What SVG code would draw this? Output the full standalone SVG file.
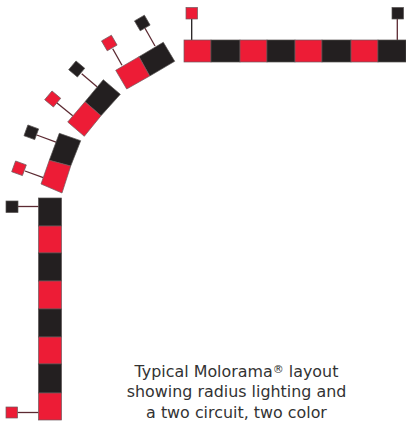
<svg xmlns="http://www.w3.org/2000/svg" width="406" height="422" viewBox="0 0 406 422">
<style>
.r{fill:#ed1c36;stroke:#6d5a5e;stroke-width:.7}
.k{fill:#231f20;stroke:#55504f;stroke-width:.7}
.l{stroke:#5c2a32;stroke-width:1.3;fill:none}
.d{stroke:#231f20;stroke-width:1.3;fill:none}
text{font-family:"DejaVu Sans",Verdana,sans-serif;font-size:15.9px;fill:#333;text-anchor:middle}
</style>
<rect width="406" height="422" fill="#fff"/>
<g id="connectors">
<path class="d" d="M191.7 19V40"/>
<path class="l" d="M397.3 19V40"/>
<path class="l" d="M18 206.5H38.5"/>
<path class="l" d="M17.5 412.5H38.5"/>
<path class="l" d="M36.7 135 56.7 142.3"/>
<path class="l" d="M25 171 43.3 177.7"/>
<path class="l" d="M81.7 73.7 97 86.7"/>
<path class="l" d="M56.7 102.7 72.7 115.7"/>
<path class="l" d="M145 28.3 155 46"/>
<path class="l" d="M112.7 48.7 122 65.3"/>
</g>
<g id="strip-top">
<rect class="r" x="184" y="40" width="27" height="22"/>
<rect class="k" x="211" y="40" width="29" height="22"/>
<rect class="r" x="240" y="40" width="27" height="22"/>
<rect class="k" x="267" y="40" width="28" height="22"/>
<rect class="r" x="295" y="40" width="27" height="22"/>
<rect class="k" x="322" y="40" width="29" height="22"/>
<rect class="r" x="351" y="40" width="27" height="22"/>
<rect class="k" x="378" y="40" width="28" height="22"/>
</g>
<g id="strip-left">
<rect class="k" x="38.5" y="198" width="23" height="28"/>
<rect class="r" x="38.5" y="226" width="23" height="27"/>
<rect class="k" x="38.5" y="253" width="23" height="28"/>
<rect class="r" x="38.5" y="281" width="23" height="28"/>
<rect class="k" x="38.5" y="309" width="23" height="28"/>
<rect class="r" x="38.5" y="337" width="23" height="27"/>
<rect class="k" x="38.5" y="364" width="23" height="29"/>
<rect class="r" x="38.5" y="393" width="23" height="27"/>
</g>
<g id="pair-1">
<polygon class="k" points="49.3,160.3 70.7,166 80.7,140.7 59.3,133.3"/>
<polygon class="r" points="41,184 62,193 70.7,166 49.3,160.3"/>
</g>
<g id="pair-2">
<polygon class="k" points="85,101.7 101,115.7 120.3,94.3 103.3,79.7"/>
<polygon class="r" points="67.7,122 84.3,136.3 101,115.7 85,101.7"/>
</g>
<g id="pair-3">
<polygon class="k" points="139,56.7 149.7,76 174.7,61.3 163.3,42.3"/>
<polygon class="r" points="115.7,70.3 126.7,89 149.7,76 139,56.7"/>
</g>
<g id="switch-top-red"><rect class="r" x="186" y="7.5" width="11.5" height="11.5"/></g>
<g id="switch-top-black"><rect class="k" x="392" y="7.5" width="11.5" height="11.5"/></g>
<g id="switch-left-black"><rect class="k" x="6" y="201" width="12" height="11.5"/></g>
<g id="switch-left-red"><rect class="r" x="6" y="407" width="11.5" height="11"/></g>
<g id="switch-1-black"><rect class="k" x="-5.7" y="-5.7" width="11.4" height="11.4" transform="translate(31.3 132.3) rotate(20)"/></g>
<g id="switch-1-red"><rect class="r" x="-5.7" y="-5.7" width="11.4" height="11.4" transform="translate(19 168.3) rotate(20)"/></g>
<g id="switch-2-black"><rect class="k" x="-5.7" y="-5.7" width="11.4" height="11.4" transform="translate(76.7 69) rotate(40)"/></g>
<g id="switch-2-red"><rect class="r" x="-5.7" y="-5.7" width="11.4" height="11.4" transform="translate(52.7 99) rotate(40)"/></g>
<g id="switch-3-black"><rect class="k" x="-5.7" y="-5.7" width="11.4" height="11.4" transform="translate(142.3 23) rotate(-30)"/></g>
<g id="switch-3-red"><rect class="r" x="-5.7" y="-5.7" width="11.4" height="11.4" transform="translate(109.3 43) rotate(-30)"/></g>
<g id="caption">
<text x="236.5" y="377">Typical Molorama<tspan font-size="11" dy="-4">®</tspan><tspan dy="4"> layout</tspan></text>
<text x="236.5" y="397">showing radius lighting and</text>
<text x="236.5" y="417.5">a two circuit, two color</text>
</g>
</svg>
